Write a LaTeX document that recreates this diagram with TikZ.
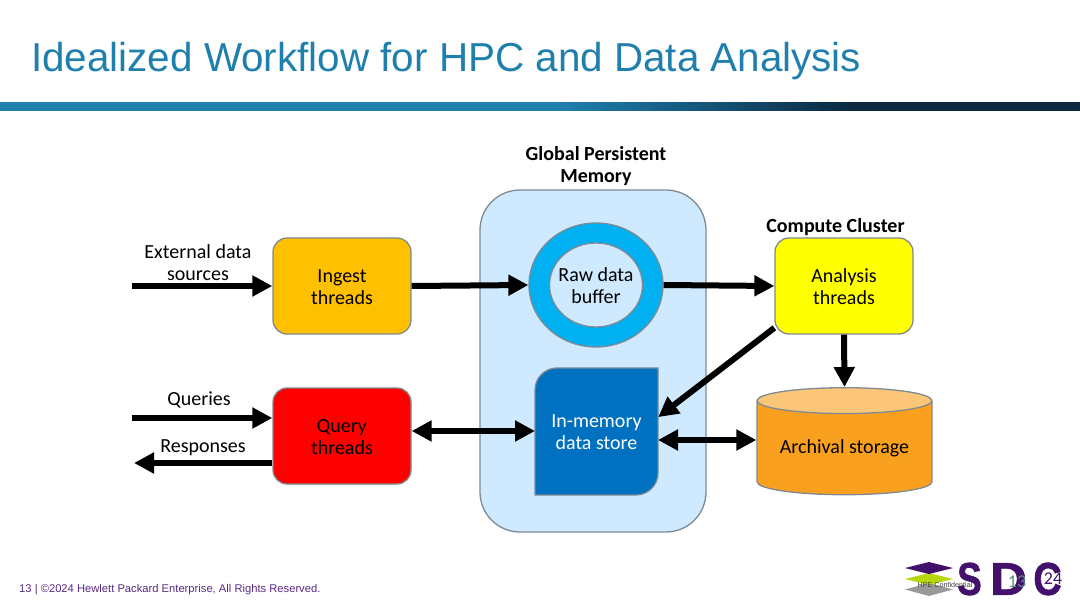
\documentclass[tikz,border=0pt]{standalone}
\usepackage{fontspec}
\setmainfont{Carlito}
\newfontfamily\arialfont{Liberation Sans}
\newfontfamily\logofont[FakeBold=1.5]{Liberation Sans Bold}
\usetikzlibrary{arrows.meta,shapes.geometric}
\definecolor{TitleClr}{HTML}{1F7FAD}
\definecolor{BarDarkClr}{HTML}{0B2840}
\definecolor{EdgeClr}{HTML}{7F8A92}
\definecolor{MemoryClr}{HTML}{CFE9FE}
\definecolor{RingClr}{HTML}{00B0F0}
\definecolor{StoreClr}{HTML}{0070C0}
\definecolor{IngestClr}{HTML}{FFC000}
\definecolor{QueryClr}{HTML}{FF0000}
\definecolor{AnalysisClr}{HTML}{FFFF00}
\definecolor{ArchiveClr}{HTML}{F9A11F}
\definecolor{ArchiveTopClr}{HTML}{FBC677}
\definecolor{FooterClr}{HTML}{5A2A82}
\definecolor{LogoClr}{HTML}{43106B}
\definecolor{LimeClr}{HTML}{B5D80F}
\definecolor{PageNoClr}{HTML}{5F8A84}
\pgfdeclarehorizontalshading{barshade}{100bp}{color(0bp)=(TitleClr); color(51bp)=(TitleClr); color(64.5bp)=(BarDarkClr); color(100bp)=(BarDarkClr)}
\tikzset{
  label/.style={font=\fontsize{20}{22}\selectfont,align=center,inner sep=0pt},
  threadbox/.style={label,draw=EdgeClr,line width=1.3pt,rounded corners=14pt,minimum width=138pt,minimum height=96pt,text height=37pt},
  flow/.style={line width=6pt,-{Triangle[length=20pt,width=20pt]}},
  bothflow/.style={line width=6pt,{Triangle[length=20pt,width=20pt]}-{Triangle[length=20pt,width=20pt]}},
  logoletter/.style={font=\logofont\fontsize{46}{46}\selectfont,text=LogoClr,inner sep=0pt}
}

\begin{document}
\begin{tikzpicture}[x=1pt,y=-1pt]
\useasboundingbox (0,0) rectangle (1080,607);

% title and bar
\node[anchor=west,inner sep=0pt,text=TitleClr,font=\arialfont\fontsize{40.4}{41}\selectfont] (Title) at (31,61.5) {Idealized Workflow for HPC and Data Analysis};
\shade[shading=barshade] (0,103) rectangle (1080,110.5);

% memory
\node[draw=EdgeClr,fill=MemoryClr,line width=1.3pt,rounded corners=40pt,minimum width=226pt,minimum height=342pt] (Memory) at (593,361) {};
\node[label,font=\bfseries\fontsize{20}{22}\selectfont] (MemoryLbl) at (596,166) {Global Persistent\\Memory};

\node[ellipse,draw=EdgeClr,fill=RingClr,line width=1.3pt,minimum width=134pt,minimum height=124pt,inner sep=0pt] (Ring) at (596,285) {};
\node[ellipse,draw=EdgeClr,fill=MemoryClr,line width=1.3pt,minimum width=93pt,minimum height=84pt,inner sep=0pt] (Hole) at (596,285) {};
\node[label] (Buffer) at (596,286) {Raw data\\buffer};

\draw[draw=EdgeClr,fill=StoreClr,line width=1.3pt] (535,495) [rounded corners=22pt] -- (535,368) [sharp corners] -- (658,368) [rounded corners=22pt] -- (658,495) [sharp corners] -- cycle;
\node[minimum width=123pt,minimum height=127pt,label,text=white] (Store) at (596.5,432.5) {In-memory\\data store};

% threads
\node[threadbox,fill=IngestClr] (Ingest) at (342,286) {Ingest\\threads};
\node[threadbox,fill=QueryClr] (Query) at (342,436) {Query\\threads};
\node[threadbox,fill=AnalysisClr] (Analysis) at (844,286) {Analysis\\threads};
\node[label,font=\bfseries\fontsize{20}{22}\selectfont] (ClusterLbl) at (835.5,227.5) {Compute Cluster};

\node[cylinder,shape border rotate=90,aspect=.2,draw=EdgeClr,line width=1.3pt,cylinder uses custom fill,cylinder body fill=ArchiveClr,cylinder end fill=ArchiveTopClr,minimum width=175pt,minimum height=107pt,label] (Archive) at (844.5,448) {Archival storage};

% inputs
\coordinate (ExtIn) at (132,286);
\coordinate (QueryIn) at (132,418);
\coordinate (RespOut) at (134,463);
\coordinate (QueryLink) at (535,431);
\coordinate (StoreLink) at (658,440);
\node[label] (ExtLbl) at (198,262.5) {External data\\sources};
\node[label] (QueriesLbl) at (199,400) {Queries};
\node[label] (RespLbl) at (203,448) {Responses};

% connectors
\draw[flow] (ExtIn) -- (Ingest.west);
\draw[flow] (Ingest.east) -- (Ring.west);
\draw[flow] (Ring.east) -- (Analysis.west);
\draw[flow] (Analysis.211) -- (Store.14);
\draw[flow] (Analysis.south) -- (Archive.north);
\draw[flow] (QueryIn) -- (Query.west |- QueryIn);
\draw[flow] (Query.west |- RespOut) -- (RespOut);
\draw[bothflow] (QueryLink -| Query.east) -- (QueryLink);
\draw[bothflow] (StoreLink) -- (StoreLink -| Archive.west);

% footer and logo
\node[anchor=west,inner sep=0pt,text=FooterClr,font=\arialfont\fontsize{11.2}{12}\selectfont] (Footer) at (19,590) {13 | ©2024 Hewlett Packard Enterprise, All Rights Reserved.};
\fill[gray!80] (905,589.5) -- (929,583) -- (953,589.5) -- (929,596) -- cycle;
\fill[LimeClr] (905,579) -- (929,573) -- (953,579) -- (929,585) -- cycle;
\fill[LogoClr] (905,568) -- (929,562) -- (953,568) -- (929,574) -- cycle;
\node[logoletter,xscale=.8] (LogoS) at (969.5,579) {S};
\node[logoletter,xscale=1.1] (LogoD) at (1008.5,579) {D};
\node[logoletter,xscale=.85] (LogoC) at (1047.5,579) {C};
\node[inner sep=0pt,font=\arialfont\fontsize{7.2}{9}\selectfont,text=black!75] (Conf) at (945,585) {HPE Confidential};
\node[inner sep=0pt,font=\fontsize{18}{18}\selectfont,text=PageNoClr] (PageNo) at (1017,582) {13};
\node[inner sep=0pt,font=\fontsize{18}{18}\selectfont,text=LogoClr] (Year) at (1053,579) {24};
\end{tikzpicture}
\end{document}
